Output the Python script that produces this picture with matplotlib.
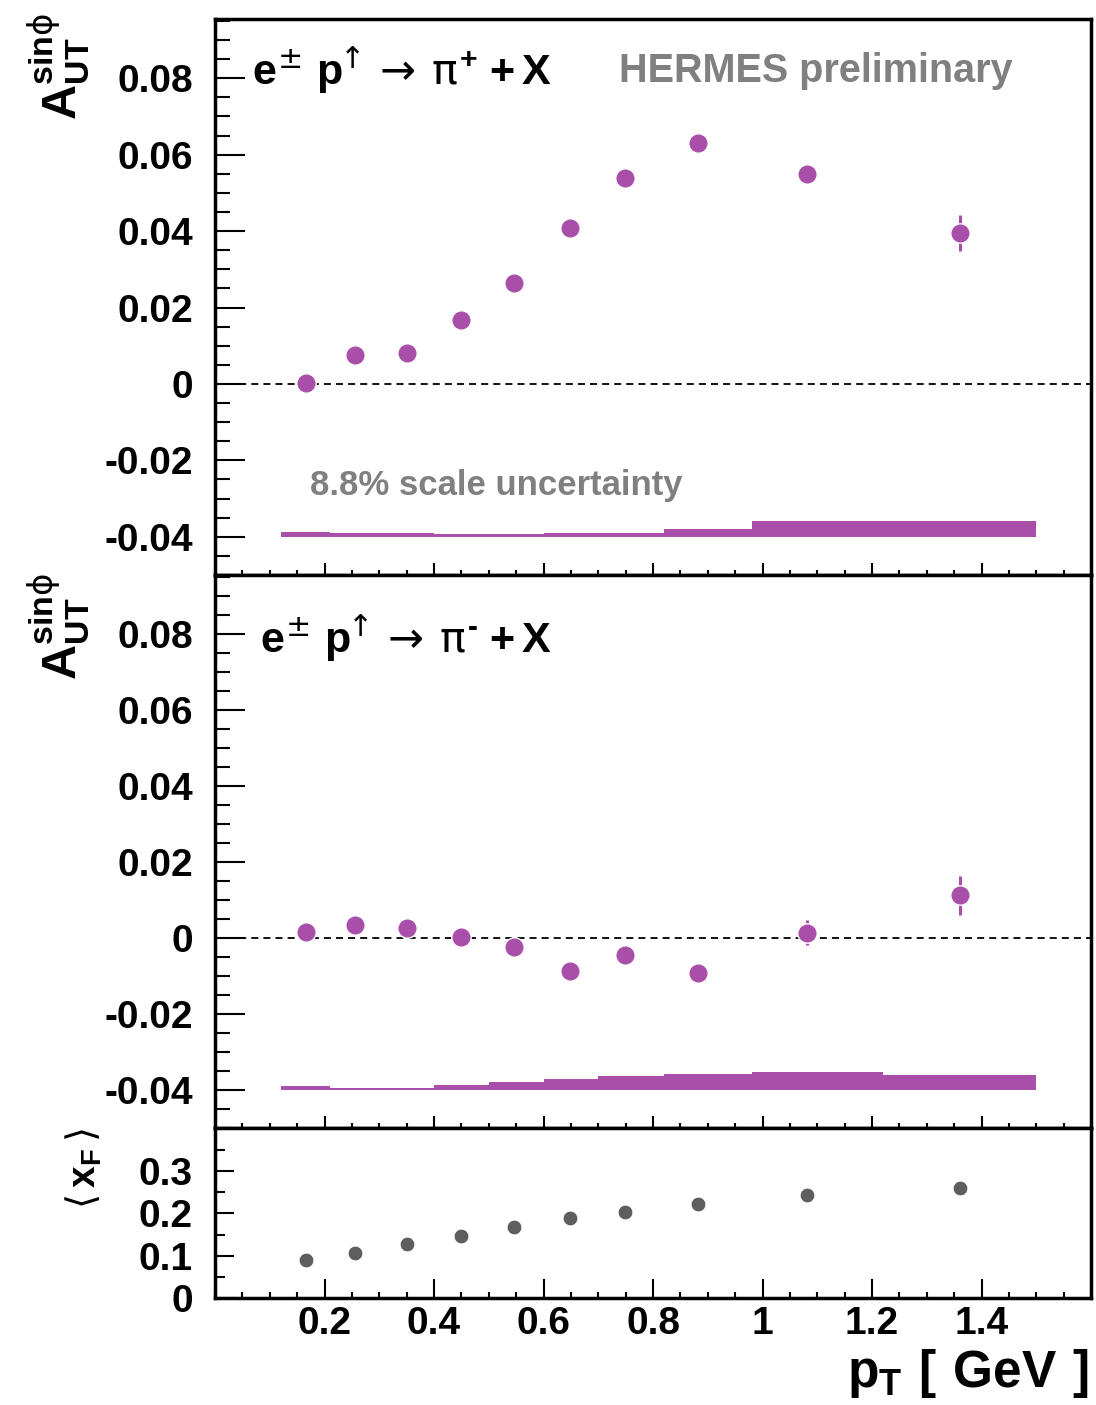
import numpy as np
import matplotlib
matplotlib.use('Agg')
import matplotlib.pyplot as plt
from matplotlib.ticker import MultipleLocator, FixedLocator, FuncFormatter

plt.rcParams['font.family'] = ['Liberation Sans', 'DejaVu Sans']
plt.rcParams['font.weight'] = 'bold'
plt.rcParams['mathtext.fontset'] = 'custom'
plt.rcParams['mathtext.rm'] = 'DejaVu Sans:regular'
plt.rcParams['mathtext.it'] = 'DejaVu Sans:regular'
plt.rcParams['mathtext.bf'] = 'Liberation Sans:bold'

# valores
pt = [0.167, 0.256, 0.351, 0.449, 0.547, 0.648, 0.748, 0.883, 1.082, 1.360]
a_pip = [0.0002, 0.0075, 0.0082, 0.0168, 0.0264, 0.0409, 0.0538, 0.0631, 0.0550, 0.0395]
a_pip_err = [0.0012, 0.0013, 0.0014, 0.0015, 0.0016, 0.0018, 0.0020, 0.0021, 0.0025, 0.0047]
a_pim = [0.0017, 0.0033, 0.0026, 0.0003, -0.0025, -0.0086, -0.0044, -0.0091, 0.0014, 0.0112]
a_pim_err = [0.0013, 0.0014, 0.0015, 0.0016, 0.0018, 0.0020, 0.0022, 0.0023, 0.0033, 0.0052]
bin_edges = [0.12, 0.21, 0.30, 0.40, 0.50, 0.60, 0.70, 0.82, 0.98, 1.22, 1.50]
sys_pip = [0.0013, 0.00096, 0.00096, 0.0007, 0.0007, 0.00096, 0.00096, 0.0020, 0.0041, 0.0041]
sys_pim = [0.00105, 0.0005, 0.0005, 0.0013, 0.0021, 0.0029, 0.0037, 0.0042, 0.0047, 0.0039]
xf = [0.0895, 0.107, 0.127, 0.147, 0.169, 0.188, 0.204, 0.223, 0.243, 0.259]
sys_base = -0.04

purple = '#AA4FA9'
grey = '#5E5E5E'
textgrey = '#808080'


def fmt(v, pos):
    if abs(v) < 1e-9:
        return '0'
    return '%g' % v


fig = plt.figure(figsize=(10.96, 14.05), dpi=100)
L, W = 215 / 1096, 876 / 1096
ax1 = fig.add_axes([L, 830 / 1405, W, 556 / 1405])
ax2 = fig.add_axes([L, 277 / 1405, W, 553 / 1405])
ax3 = fig.add_axes([L, 107 / 1405, W, 170 / 1405])

edges = np.array(bin_edges)
for ax, y, yerr, sysv in [(ax1, a_pip, a_pip_err, sys_pip), (ax2, a_pim, a_pim_err, sys_pim)]:
    ax.bar(edges[:-1], sysv, width=np.diff(edges), bottom=sys_base, align='edge',
           color=purple, linewidth=0, zorder=2)
    ax.axhline(0, color='k', lw=1.3, dashes=(3.9, 2.8), zorder=1)
    ax.errorbar(pt, y, yerr=yerr, fmt='o', color=purple, ms=14, mec='white', mew=1.0,
                elinewidth=2.2, capsize=0, zorder=3)
    ax.set_ylim(-0.05, 0.0955)
    ax.yaxis.set_major_locator(MultipleLocator(0.02))
    ax.yaxis.set_minor_locator(MultipleLocator(0.005))
    ax.tick_params(axis='y', which='major', length=21.6)
    ax.tick_params(axis='y', which='minor', length=10.8)
    ax.tick_params(axis='x', which='major', length=8.6)
    ax.tick_params(axis='x', which='minor', length=3.6)
    ax.tick_params(axis='x', labelbottom=False)

ax3.plot(pt, xf, 'o', color=grey, ms=10.5, mec='white', mew=0.5)
ax3.set_ylim(0, 0.402)
ax3.yaxis.set_major_locator(FixedLocator([0, 0.1, 0.2, 0.3]))
ax3.yaxis.set_minor_locator(FixedLocator([0.05, 0.15, 0.25, 0.35]))
ax3.tick_params(axis='y', which='major', length=13.7)
ax3.tick_params(axis='y', which='minor', length=7.2)
ax3.tick_params(axis='x', which='major', length=13.7)
ax3.tick_params(axis='x', which='minor', length=4.3)

for ax in [ax1, ax2, ax3]:
    ax.set_xlim(0, 1.6)
    ax.xaxis.set_major_locator(FixedLocator([0.2, 0.4, 0.6, 0.8, 1.0, 1.2, 1.4]))
    ax.xaxis.set_minor_locator(MultipleLocator(0.05))
    ax.xaxis.set_major_formatter(FuncFormatter(fmt))
    ax.yaxis.set_major_formatter(FuncFormatter(fmt))
    ax.tick_params(which='both', direction='in', top=False, right=False, width=1.5, colors='k')
    ax.tick_params(axis='y', pad=16, labelsize=28)
    ax.tick_params(axis='x', pad=6, labelsize=28)
    for s in ax.spines.values():
        s.set_linewidth(2.5)

# textos
reac = '$\\mathbf{e}^{\\!\\pm}\\,\\mathbf{p}^{\\!\\!\\uparrow}\\rightarrow\\,\\pi^{\\mathbf{%s}}\\;\\mathbf{+}\\,\\mathbf{X}$'
ax1.text(0.068, 0.0783, reac % '+', fontsize=31, va='baseline', ha='left')
ax2.text(0.082, 0.0749, reac % '\u2010', fontsize=31, va='baseline', ha='left')
ax1.text(0.737, 0.0789, 'HERMES preliminary', color=textgrey, fontsize=28.5,
         fontweight='bold', va='baseline')
ax1.text(0.174, -0.0291, '8.8% scale uncertainty', color=textgrey, fontsize=25,
         fontweight='bold', va='baseline')

ylab = r'$\mathbf{A}_{\mathbf{UT}}^{\mathbf{sin}\phi}$'
fig.text(92 / 1096, 1 - 13 / 1405, ylab, rotation=90, fontsize=35, ha='right', va='top')
fig.text(92 / 1096, 1 - 573 / 1405, ylab, rotation=90, fontsize=35, ha='right', va='top')
fig.text(104 / 1096, 1 - 1128 / 1405, r'$\langle\,\mathbf{x}_{\mathbf{F}}\,\rangle$',
         rotation=90, fontsize=28, ha='right', va='top')
fig.text(1088 / 1096, 1 - 1387 / 1405, r'$\mathbf{p}_{\mathbf{T}}\ \mathbf{[\ GeV\ ]}$',
         fontsize=37, ha='right', va='baseline')

fig.savefig('out.png', dpi=100)
